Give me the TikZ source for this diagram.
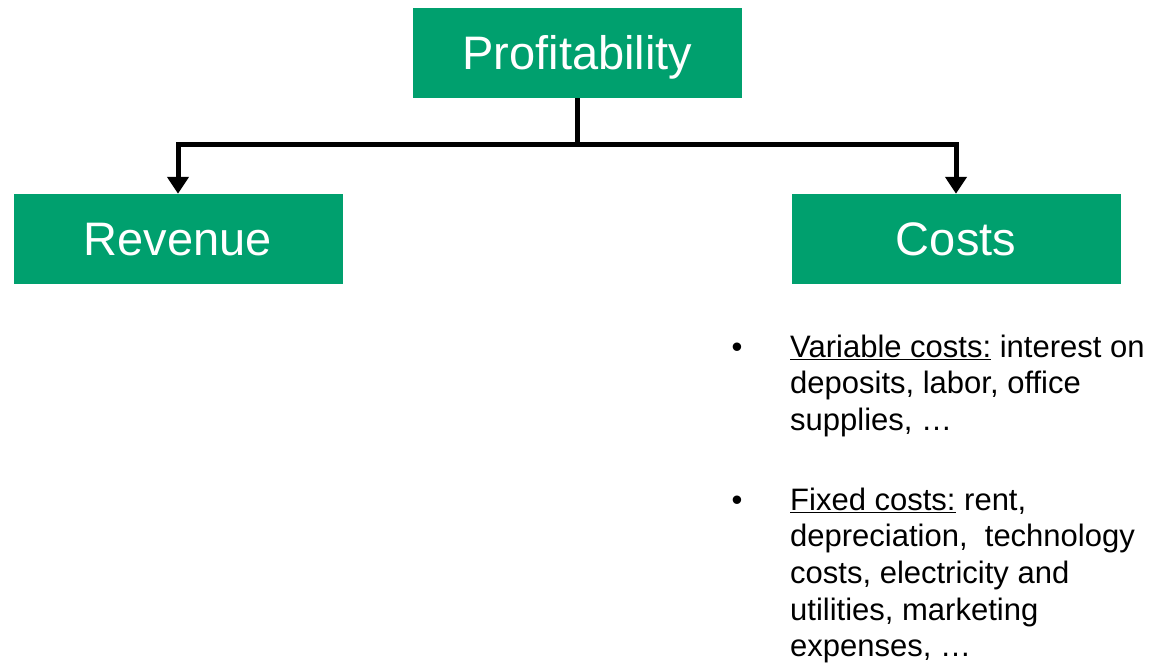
\documentclass[tikz,border=0pt]{standalone}
\usepackage{fontspec}
\setmainfont{Liberation Sans}
\usetikzlibrary{arrows.meta}
\definecolor{boxgreen}{RGB}{0,160,110}
\newcommand{\boxtxt}[1]{\raisebox{-17pt}[0pt][0pt]{#1}}
\begin{document}
\begin{tikzpicture}[x=1pt,y=-1pt,
  gbox/.style={fill=boxgreen,text=white,minimum width=329pt,minimum height=90pt,inner sep=0pt,font=\fontsize{47}{56}\selectfont},
  conn/.style={line width=5pt,-{Triangle[width=21pt,length=17pt]}},
  btext/.style={anchor=base west,inner sep=0pt,align=left,font=\fontsize{31}{36.7}\selectfont},
  bdot/.style={anchor=base,inner sep=0pt,font=\fontsize{31}{36.7}\selectfont}]
\useasboundingbox (0,0) rectangle (1160,671);
\node[gbox] (prof) at (577.5,53) {\boxtxt{Profitability}};
\node[gbox] (rev) at (178,239) {\boxtxt{Revenue}};
\node[gbox] (cost) at (956,239) {\boxtxt{Costs}};
\coordinate (mid) at (577.5,145);
\draw[line width=5pt] (prof.south) -- (mid);
\draw[conn] (mid) -| (rev.north);
\draw[conn] (mid) -| (cost.north);
\node[bdot] (b1) at (737,357) {•};
\node[btext] (t1) at (790,430.4) {\underline{Variable costs:} interest on\\deposits, labor, office\\supplies, …};
\node[bdot] (b2) at (737,510) {•};
\node[btext] (t2) at (790,656.8) {\underline{Fixed costs:} rent,\\depreciation,\ \ technology\\costs, electricity and\\utilities, marketing\\expenses, …};
\end{tikzpicture}
\end{document}
